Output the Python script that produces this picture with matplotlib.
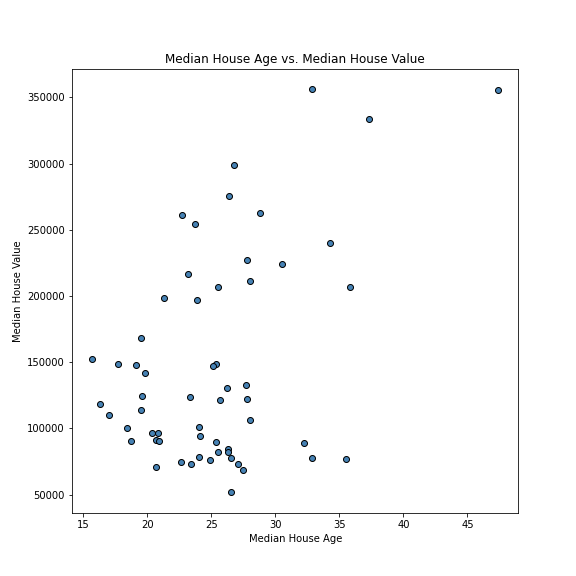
import matplotlib
matplotlib.use("Agg")
import matplotlib.pyplot as plt

house_age = [32.9, 47.4, 37.3, 26.8, 26.4, 22.7, 28.8, 23.7, 34.3, 27.8, 30.5, 23.2, 28.0, 25.5, 35.8,
             21.3, 23.9, 19.5, 15.7, 17.7, 19.1, 25.4, 25.1, 19.8, 27.7, 26.2, 19.6, 23.3, 27.8, 25.7,
             16.3, 19.5, 17.0, 28.0, 18.4, 24.0, 20.4, 20.8, 24.1, 20.7, 20.9, 18.7, 25.4, 32.2, 26.3,
             26.3, 25.5, 24.0, 26.5, 32.9, 35.5, 24.9, 22.6, 23.4, 27.1, 27.5, 20.7, 26.5]
house_value = [356200, 355400, 333800, 299100, 275200, 261300, 262900, 254400, 239700, 227400, 224300,
               216600, 211200, 206600, 206600, 198800, 197300, 168000, 152600, 148700, 148000, 148700,
               147200, 141800, 132500, 130200, 124800, 124000, 122500, 121700, 118600, 114000, 110200,
               106300, 100100, 100900, 96300, 96300, 94000, 91600, 90800, 90800, 90100, 89300, 84700,
               82400, 82400, 78500, 77800, 77800, 77000, 76200, 74700, 73100, 73100, 68500, 70800, 51600]

fig, ax = plt.subplots(figsize=(8, 8), dpi=72)
fig.subplots_adjust(left=0.125, right=0.9, top=0.88, bottom=0.11)
ax.scatter(house_age, house_value, color="steelblue", edgecolors="black", s=36)
ax.set_title("Median House Age vs. Median House Value")
ax.set_xlabel("Median House Age")
ax.set_ylabel("Median House Value")
fig.savefig("out.png")
